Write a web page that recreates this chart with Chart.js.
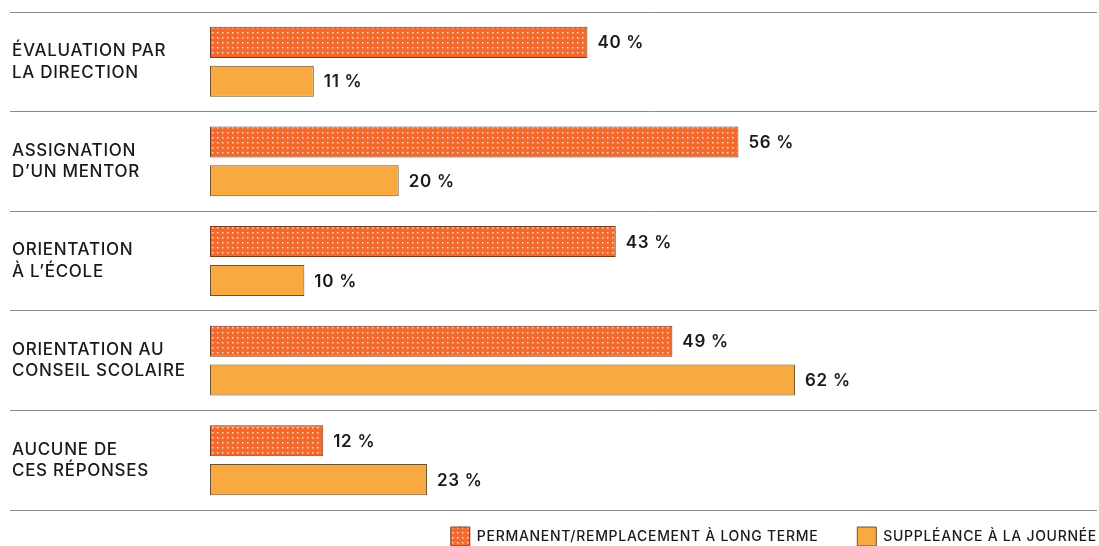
<!DOCTYPE html>
<html>
<head>
<meta charset="utf-8">
<script src="https://cdn.jsdelivr.net/npm/chart.js@4"></script>
<style>
html,body{margin:0;padding:0;background:#fff;}
#wrap{width:1099px;height:546px;position:relative;}
</style>
</head>
<body>
<div id="wrap"><canvas id="c" width="1099" height="546"></canvas></div>
<script>
const categories = [
  ["ÉVALUATION PAR", "LA DIRECTION"],
  ["ASSIGNATION", "D’UN MENTOR"],
  ["ORIENTATION", "À L’ÉCOLE"],
  ["ORIENTATION AU", "CONSEIL SCOLAIRE"],
  ["AUCUNE DE", "CES RÉPONSES"]
];
const seriesNames = ["PERMANENT/REMPLACEMENT À LONG TERME", "SUPPLÉANCE À LA JOURNÉE"];
const permanentValues = [40, 56, 43, 49, 12];
const dailyValues = [11, 20, 10, 62, 23];

function dotPattern() {
  const p = document.createElement('canvas');
  p.width = 5; p.height = 5;
  const g = p.getContext('2d');
  g.fillStyle = '#F26A2E';
  g.fillRect(0, 0, 5, 5);
  g.fillStyle = 'rgba(255,228,210,0.9)';
  g.fillRect(2, 2, 1.5, 1.5);
  return g.createPattern(p, 'repeat');
}
const canvas = document.getElementById('c');
const ctx = canvas.getContext('2d');
const pattern = dotPattern();

const LEGEND_FIT_PAD = 17;
const LEGEND_GAP = 39;

const spacing = {
  id: 'spacing',
  beforeInit(chart) { chart.ctx.letterSpacing = '0.7px'; },
  beforeUpdate(chart) { chart.ctx.letterSpacing = '0.7px'; },
  beforeDraw(chart) { chart.ctx.letterSpacing = '0.7px'; },
  afterLayout(chart) {
    const lg = chart.legend;
    if (!lg || !lg.lineWidths) return;
    const n = lg.legendItems.length;
    const extra = LEGEND_GAP - LEGEND_FIT_PAD;
    lg.options.labels.padding = LEGEND_GAP;
    lg.top -= extra;
    lg.lineWidths[0] += n * extra;
    lg.right = chart.chartArea.right + LEGEND_GAP;
  }
};

const valueLabels = {
  id: 'valueLabels',
  afterDatasetsDraw(chart) {
    const c = chart.ctx;
    c.save();
    c.font = '600 17px Inter';
    c.fillStyle = '#1a1a1a';
    c.textBaseline = 'middle';
    c.textAlign = 'left';
    chart.data.datasets.forEach((ds, i) => {
      chart.getDatasetMeta(i).data.forEach((bar, j) => {
        c.fillText(ds.data[j] + ' %', bar.x + 10, bar.y + 1);
      });
    });
    c.restore();
  }
};

new Chart(ctx, {
  type: 'bar',
  data: {
    labels: categories,
    datasets: [
      {
        label: seriesNames[0],
        data: permanentValues,
        backgroundColor: pattern,
        borderColor: '#7a3a1c',
        borderWidth: 1,
        borderSkipped: false
      },
      {
        label: seriesNames[1],
        data: dailyValues,
        backgroundColor: '#F8AA40',
        borderColor: '#6a5330',
        borderWidth: 1,
        borderSkipped: false
      }
    ]
  },
  options: {
    indexAxis: 'y',
    responsive: false,
    animation: false,
    categoryPercentage: 0.78,
    barPercentage: 0.8,
    layout: { padding: { left: 12, right: 2, top: 12, bottom: -10 } },
    scales: {
      x: { display: false, min: 0, max: 94 },
      y: {
        grid: {
          offset: true,
          color: '#8a8a8a',
          lineWidth: 1,
          drawTicks: true,
          tickLength: 200,
          tickColor: '#8a8a8a'
        },
        border: { display: false },
        ticks: {
          crossAlign: 'far',
          color: '#1a1a1a',
          font: { family: 'Inter', size: 17, weight: '500', lineHeight: 1.25 }
        },
        afterFit(scale) {
          scale.width = 198;
          scale.paddingTop = 0;
          scale.paddingBottom = 0;
        }
      }
    },
    plugins: {
      legend: {
        position: 'bottom',
        align: 'end',
        labels: {
          boxWidth: 19,
          boxHeight: 19,
          padding: LEGEND_FIT_PAD,
          color: '#1a1a1a',
          font: { family: 'Inter', size: 14, weight: '500' }
        }
      },
      tooltip: { enabled: false }
    }
  },
  plugins: [spacing, valueLabels]
});
</script>
</body>
</html>
